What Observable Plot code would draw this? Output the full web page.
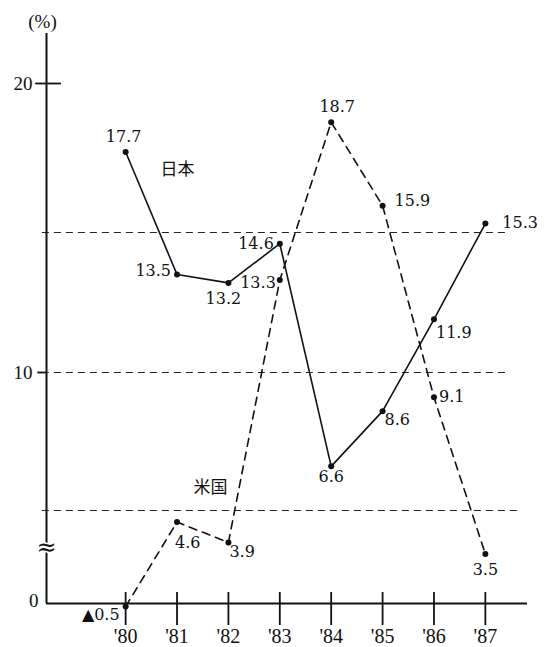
<!DOCTYPE html>
<html>
<head>
<meta charset="utf-8">
<script src="https://cdn.jsdelivr.net/npm/d3@7"></script>
<script src="https://cdn.jsdelivr.net/npm/@observablehq/plot@0.6"></script>
<style>
  html, body { margin: 0; padding: 0; background: #fff; }
  #chart svg { display: block; }
</style>
</head>
<body>
<div id="chart"></div>
<script>
// ---- data ----
const years = [1980, 1981, 1982, 1983, 1984, 1985, 1986, 1987];
const yearLabels = ["'80", "'81", "'82", "'83", "'84", "'85", "'86", "'87"];
const japan = [17.7, 13.5, 13.2, 14.6, 6.6, 8.6, 11.9, 15.3];
const japanText = ["17.7", "13.5", "13.2", "14.6", "6.6", "8.6", "11.9", "15.3"];
const us = [-0.5, 4.6, 3.9, 13.3, 18.7, 15.9, 9.1, 3.5];
const usText = ["▲0.5", "4.6", "3.9", "13.3", "18.7", "15.9", "9.1", "3.5"];
const gridValues = [5, 10, 15];
const yTickValues = [10, 20];
const yTickText = ["10", "20"];
const seriesNames = ["日本", "米国"];
const unitText = "(%)";

// ---- layout (label placement, broken axis) ----
const japanLabelDx = [-2, -6, -5, -6, 0, 2, 2, 17];
const japanLabelDy = [-15, -4, 16, 0, 11, 9, 14, -1];
const japanLabelAnchor = ["middle", "end", "middle", "end", "middle", "start", "start", "start"];
const usLabelDx = [-6, -2, 1, -4, 6, 12, 5, 0];
const usLabelDy = [8, 21, 9, 3, -15, -5, 0, 16];
const usLabelAnchor = ["end", "start", "start", "end", "middle", "start", "start", "middle"];

const xmin = 1978.46, xmax = 1987.82;
// piecewise y scale: the axis is broken between 0 and 3
const yDomain = [-3, -0.5, 0, 3, 5, 10, 15, 20, 21.7, 22.5];
const yRange  = [625, 606, 603, 568, 510, 372, 232, 83, 33, 9];
const yPiece = d3.scaleLinear().domain(yDomain).range(yRange);

const japanData = years.map((year, i) => ({year, value: japan[i], label: japanText[i]}));
const usData = years.map((year, i) => ({year, value: us[i], label: usText[i]}));

const serif = "'Liberation Serif', serif";
const dserif = "'DejaVu Serif', serif";
const cjk = "'Noto Sans CJK JP', sans-serif";

const labelMarks = (data, dxs, dys, anchors) =>
  data.map((d, i) => Plot.text([d], {
    x: "year", y: "value", text: "label",
    dx: dxs[i], dy: dys[i], textAnchor: anchors[i],
    fontSize: 16, fontFamily: dserif, fill: "#111"
  }));

const chart = Plot.plot({
  width: 548,
  height: 647,
  marginTop: 0, marginBottom: 0, marginLeft: 46, marginRight: 21,
  x: {domain: [xmin, xmax], range: [46, 527], axis: null},
  y: {transform: yPiece, domain: [0, 647], range: [0, 647], axis: null},
  marks: [
    // dashed gridlines
    Plot.ruleY(gridValues, {x1: 1978.38, x2: d => d === 5 ? 1987.64 : 1987.4, stroke: "#222", strokeWidth: 1.2, strokeDasharray: "7,5"}),
    // axes
    Plot.ruleX([xmin], {y1: 0, y2: 21.7, stroke: "#111", strokeWidth: 2}),
    Plot.ruleY([0], {x1: xmin, x2: xmax, stroke: "#111", strokeWidth: 2}),
    Plot.ruleX(years, {y1: -3, y2: 0.94, stroke: "#111", strokeWidth: 1.8}),
    Plot.ruleY([20], {x1: 1978.25, x2: 1978.75, stroke: "#111", strokeWidth: 1.8}),
    Plot.ruleY([10], {x1: 1978.29, x2: xmin, stroke: "#111", strokeWidth: 1.8}),
    // axis break
    Plot.text(["≈"], {x: xmin, y: 3.72, fontSize: 24, fontFamily: dserif, fill: "#111",
      stroke: "white", strokeWidth: 3}),
    // tick labels
    Plot.text(yTickValues, {x: xmin, y: d => d, text: (d, i) => yTickText[i], dx: -14, textAnchor: "end",
      fontSize: 19, fontFamily: serif, fill: "#111"}),
    Plot.text([0], {x: xmin, y: 0, text: d => String(d), dx: -8, dy: -3, textAnchor: "end",
      fontSize: 19, fontFamily: serif, fill: "#111"}),
    Plot.text(years, {x: d => d, y: -3, text: (d, i) => yearLabels[i], dy: 11,
      fontSize: 20, fontFamily: serif, fill: "#111"}),
    Plot.text([unitText], {x: xmin, y: 22.1, dx: -4, fontSize: 19,
      fontFamily: serif, fill: "#111"}),
    // series
    Plot.line(japanData, {x: "year", y: "value", stroke: "#111", strokeWidth: 1.6}),
    Plot.line(usData, {x: "year", y: "value", stroke: "#111", strokeWidth: 1.6, strokeDasharray: "8,6"}),
    Plot.dot(japanData, {x: "year", y: "value", r: 3, fill: "#111"}),
    Plot.dot(usData, {x: "year", y: "value", r: 3, fill: "#111"}),
    ...labelMarks(japanData, japanLabelDx, japanLabelDy, japanLabelAnchor),
    ...labelMarks(usData, usLabelDx, usLabelDy, usLabelAnchor),
    // series names
    Plot.text([seriesNames[0]], {x: 1981.01, y: 17.1, fontSize: 17, fontFamily: cjk, fill: "#111"}),
    Plot.text([seriesNames[1]], {x: 1981.65, y: 5.83, fontSize: 17, fontFamily: cjk, fill: "#111"})
  ]
});
document.getElementById("chart").appendChild(chart);
</script>
</body>
</html>
